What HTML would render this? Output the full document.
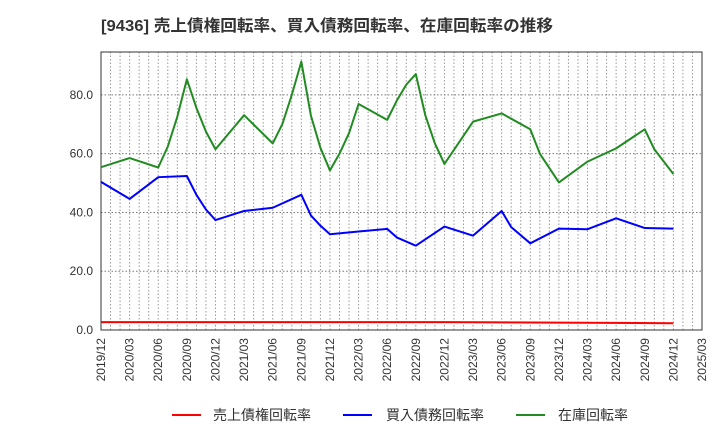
<!DOCTYPE html>
<html><head><meta charset="utf-8"><style>
body{margin:0;background:#fff;font-family:"Liberation Sans","Noto Sans CJK JP",sans-serif;}
</style></head><body>
<svg id="c" width="720" height="440" xmlns="http://www.w3.org/2000/svg">
<text x="101" y="31" font-size="16" font-weight="bold" fill="#333" textLength="452" lengthAdjust="spacingAndGlyphs" font-family="Liberation Sans, Noto Sans CJK JP, sans-serif">[9436]  売上債権回転率、買入債務回転率、在庫回転率の推移</text>
<g id="grid"></g><g id="axes"></g><g id="series"></g>
<g font-size="14" fill="#333" font-family="Liberation Sans, Noto Sans CJK JP, sans-serif">
<line x1="172" y1="415" x2="201" y2="415" stroke="#ff0000" stroke-width="2"/>
<text x="213" y="420">売上債権回転率</text>
<line x1="343" y1="415" x2="372" y2="415" stroke="#0000ff" stroke-width="2"/>
<text x="386" y="420">買入債務回転率</text>
<line x1="516" y1="415" x2="545" y2="415" stroke="#228b22" stroke-width="2"/>
<text x="558" y="420">在庫回転率</text>
</g>
</svg>
<script>
const xTickLabels=["2019/12","2020/03","2020/06","2020/09","2020/12","2021/03","2021/06","2021/09","2021/12","2022/03","2022/06","2022/09","2022/12","2023/03","2023/06","2023/09","2023/12","2024/03","2024/06","2024/09","2024/12","2025/03"];
const yTicks=[0,20,40,60,80];
const redMonths=[0,12,24,36,48,60];
const redValues=[2.7,2.7,2.7,2.7,2.5,2.3];
const blueMonths=[0,3,6,9,10,11,12,15,18,21,22,23,24,27,30,31,33,36,39,42,43,45,48,51,54,57,60];
const blueValues=[50.4,44.6,52.0,52.4,46,41,37.4,40.5,41.6,46,39,35.5,32.6,33.5,34.4,31.5,28.7,35.2,32.1,40.5,35,29.5,34.5,34.3,38,34.7,34.5];
const greenMonths=[0,3,6,7,8,9,10,11,12,15,18,19,20,21,22,23,24,25,26,27,30,31,32,33,34,35,36,39,42,45,46,48,51,54,57,58,60];
const greenValues=[55.4,58.5,55.3,62.4,72.6,85.3,75.6,67.5,61.5,73.1,63.5,70,80,91.3,73,62,54.3,60,67,76.9,71.5,78,83.5,87.1,73,63.5,56.5,70.9,73.7,68.3,60,50.2,57.3,61.8,68.3,61.5,53.1];
const L=101,R=702,T=52,B=330,NM=63,YMAX=94.6;
const sx=m=>L+(R-L)*m/NM;
const sy=v=>B-(B-T)*v/YMAX;
const NS="http://www.w3.org/2000/svg";
function mk(t,a,p){const e=document.createElementNS(NS,t);for(const k in a)e.setAttribute(k,a[k]);p.appendChild(e);return e;}
const grid=document.getElementById('grid'),axes=document.getElementById('axes'),ser=document.getElementById('series');
for(let m=1;m<NM;m++){const g=mk('line',{x1:sx(m),x2:sx(m),y1:T,y2:B,stroke:'#999','stroke-width':1,'stroke-dasharray':'1.5,2'},grid);

}
yTicks.forEach(v=>{if(v>0){const g=mk('line',{x1:L,x2:R,y1:sy(v),y2:sy(v),stroke:'#777','stroke-width':1,'stroke-dasharray':'1.5,2'},grid);

}
const t=mk('text',{x:L-8,y:sy(v)+4,'text-anchor':'end','font-size':12,fill:'#333'},axes);t.textContent=v.toFixed(1);

});
const fr=mk('rect',{x:L,y:T,width:R-L,height:B-T,fill:'none',stroke:'#333','stroke-width':1},axes);


xTickLabels.forEach((s,i)=>{const x=sx(i*3);const t=mk('text',{x:x+4,y:B+8,'text-anchor':'end','font-size':12,fill:'#333',transform:`rotate(-90 ${x+4} ${B+8})`},axes);t.textContent=s;

});
function line(ms,vs,col,name){const p=mk('polyline',{points:ms.map((m,i)=>sx(m)+','+sy(vs[i])).join(' '),fill:'none',stroke:col,'stroke-width':2,'stroke-linejoin':'round'},ser);

}
line(redMonths,redValues,'#ff0000','receivables-turnover-line');
line(blueMonths,blueValues,'#0000ff','payables-turnover-line');
line(greenMonths,greenValues,'#228b22','inventory-turnover-line');
</script>
</body></html>
